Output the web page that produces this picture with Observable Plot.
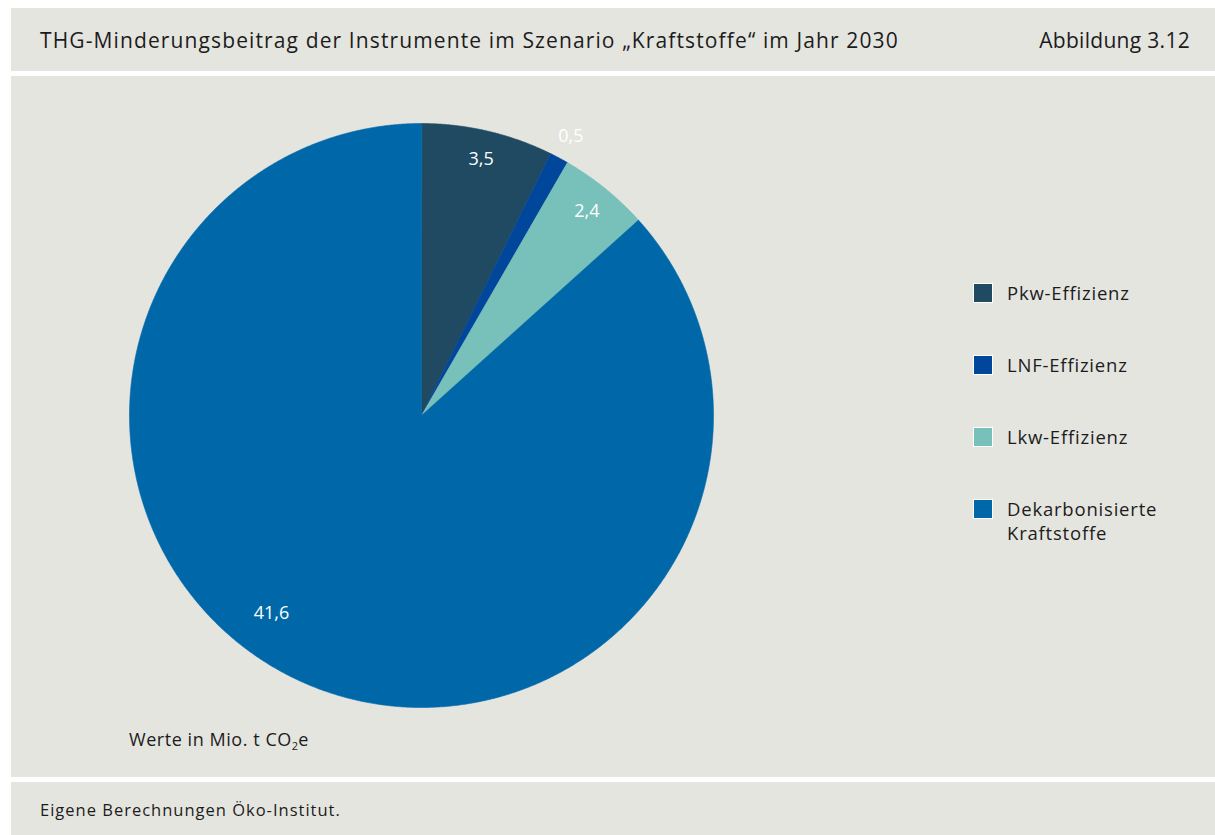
<!DOCTYPE html>
<html><head><meta charset="utf-8">
<script src="https://cdn.jsdelivr.net/npm/d3@7"></script>
<script src="https://cdn.jsdelivr.net/npm/@observablehq/plot@0.6"></script>
<style>
body{margin:0;background:#fff;width:1215px;height:835px;position:relative;overflow:hidden;font-family:"Open Sans",sans-serif;color:#1c1c1c}
.panel{position:absolute;left:11px;width:1204px;background:#e5e5e0}
#title{position:absolute;left:29px;top:18px;font-size:21px;letter-spacing:1.12px;white-space:nowrap}
#fig{position:absolute;right:25px;top:18px;font-size:21px;letter-spacing:0.3px;white-space:nowrap}
#foot span{position:absolute;left:29px;top:16px;font-size:16.5px;letter-spacing:1px;white-space:nowrap}
#unit{position:absolute;left:118px;top:651px;font-size:18px;letter-spacing:0.55px;white-space:nowrap}
#unit sub{font-size:11px;vertical-align:-4px;line-height:0;letter-spacing:0}
.lg{position:absolute;left:962px;font-size:18.5px;letter-spacing:0.8px;line-height:24px}
.lg i{position:absolute;left:0;top:0;width:18px;height:18px;border:1px solid #fff}
.lg span{position:absolute;left:34px;top:-2px;white-space:nowrap}
#main svg{position:absolute;left:0;top:0}
</style></head><body>
<div class="panel" id="head" style="top:8px;height:63px"><span id="title">THG-Minderungsbeitrag der Instrumente im Szenario „Kraftstoffe“ im Jahr 2030</span><span id="fig">Abbildung 3.12</span></div>
<div class="panel" id="main" style="top:76px;height:701px"></div>
<div class="panel" id="foot" style="top:782px;height:53px"><span>Eigene Berechnungen Öko-Institut.</span></div>
<script>
const categories = ["Pkw-Effizienz", "LNF-Effizienz", "Lkw-Effizienz", "Dekarbonisierte Kraftstoffe"];
const legendLines = [["Pkw-Effizienz"], ["LNF-Effizienz"], ["Lkw-Effizienz"], ["Dekarbonisierte", "Kraftstoffe"]];
const values = [3.5, 0.5, 2.4, 41.6];
const valueLabels = ["3,5", "0,5", "2,4", "41,6"];
const colors = ["#1f4a62", "#00479b", "#78c0ba", "#0068a9"];

const data = categories.map((c, i) => ({cat: c, value: values[i], label: valueLabels[i]}));
const arcs = d3.pie().sort(null).value(d => d.value).startAngle(0).endAngle(2 * Math.PI)(data);

// polygon outlines of the slices (unit circle, clockwise from 12 o'clock)
const poly = [];
arcs.forEach(a => {
  poly.push({cat: a.data.cat, x: 0, y: 0});
  const n = Math.max(2, Math.ceil((a.endAngle - a.startAngle) / 0.005));
  for (let k = 0; k <= n; k++) {
    const t = a.startAngle + (a.endAngle - a.startAngle) * k / n;
    poly.push({cat: a.data.cat, x: Math.sin(t), y: Math.cos(t)});
  }
});

// label placement rules (radius fraction; the big slice label sits lower-left)
const labelPos = arcs.map(a => {
  let t = (a.startAngle + a.endAngle) / 2, r = 0.9;
  if (a.data.value < 1) r = 1.085;
  if (a.data.value > 20) { t = t + 0.23; r = 0.85; }
  return {label: a.data.label, x: r * Math.sin(t), y: r * Math.cos(t)};
});

const chart = Plot.plot({
  width: 1204, height: 701, margin: 0,
  x: {domain: [-1, 1], range: [118, 702], axis: null},
  y: {domain: [-1, 1], range: [631, 47], axis: null},
  color: {domain: categories, range: colors},
  style: {background: "transparent", fontFamily: "Open Sans, sans-serif"},
  marks: [
    Plot.line(poly, {x: "x", y: "y", z: "cat", fill: "cat", stroke: "cat", strokeWidth: 0.6, curve: "linear-closed"}),
    Plot.text(labelPos, {x: "x", y: "y", text: "label", fill: "white", fontSize: 18, letterSpacing: 0.6})
  ]
});
const main = document.getElementById("main");
main.appendChild(chart);

const unit = document.createElement("div");
unit.id = "unit";
unit.innerHTML = "Werte in Mio. t CO<sub>2</sub>e";
main.appendChild(unit);

categories.forEach((c, i) => {
  const d = document.createElement("div");
  d.className = "lg";
  d.style.top = (207 + 72 * i) + "px";
  const sw = document.createElement("i");
  sw.style.background = colors[i];
  const s = document.createElement("span");
  s.innerHTML = legendLines[i].join("<br>");
  d.appendChild(sw); d.appendChild(s);
  main.appendChild(d);
});
</script>
</body></html>
